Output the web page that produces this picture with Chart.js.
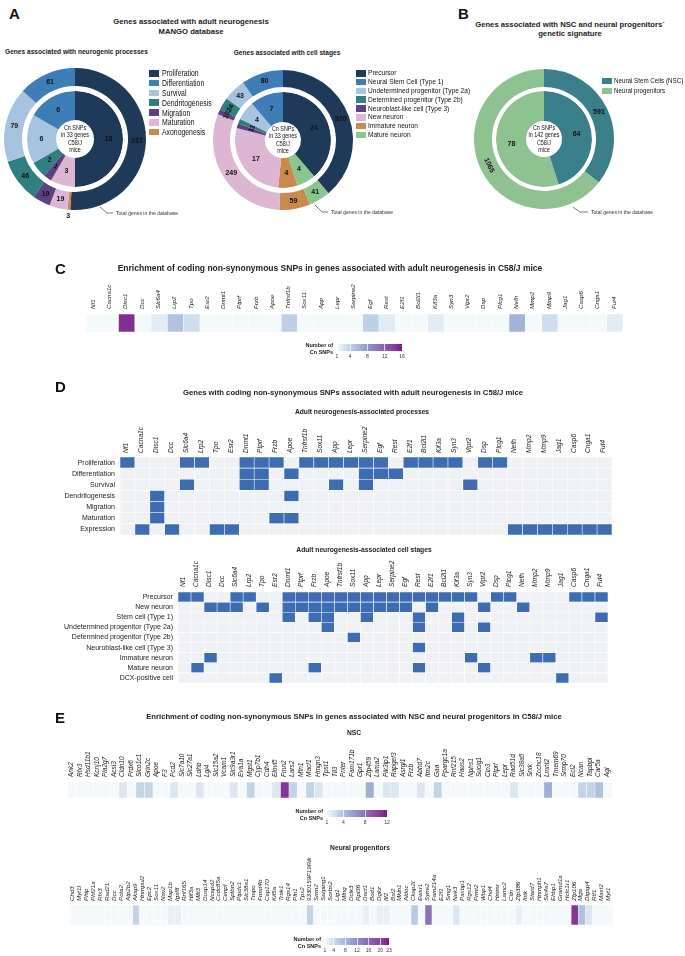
<!DOCTYPE html>
<html><head><meta charset="utf-8">
<script src="https://cdn.jsdelivr.net/npm/chart.js@4.4.1/dist/chart.umd.min.js"></script>
<style>
html,body{margin:0;padding:0;background:#fff;}
#page{position:relative;width:685px;height:956px;overflow:hidden;font-family:"Liberation Sans",Arial,sans-serif;color:#222;}
canvas{position:absolute;}
.t{position:absolute;white-space:nowrap;line-height:1;}
</style></head><body><div id="page"></div>
<script>
// ---------------- DATA ----------------
const procNames  = ['Proliferation','Differentiation','Survival','Dendritogenesis','Migration','Maturation','Axonogenesis'];
const procTotal  = [237, 61, 79, 46, 19, 19, 3];
const procSnp    = [18, 6, 6, 2, 1, 3, 0];

const stageNames = ['Precursor','Neural Stem Cell (Type 1)','Undetermined progenitor (Type 2a)','Determined progenitor (Type 2b)','Neuroblast-like cell (Type 3)','New neuron','Immature neuron','Mature neuron'];
const stageTotal = [320, 80, 43, 24, 10, 249, 59, 41];
const stageSnp   = [24, 7, 4, 1, 1, 17, 4, 4];

const sigNames = ['Neural Stem Cells (NSC)','Neural progenitors'];
const sigTotal = [591, 1065];
const sigSnp   = [64, 78];

const genes33 = ['Nf1','Cacna1c','Disc1','Dcc','Slc6a4','Lrp2','Tpo','Esr2','Dnmt1','Ptprf','Frzb','Apoe','Tnfrsf1b','Sox11','App','Lepr','Serpine2','Egf','Rest','E2f1','Bcl2l1','Kif3a','Syn3','Vipr2','Dsp','Plcg1','Nefh','Mmp2','Mmp9','Jag1','Casp6','Cnga1','Fut4'];
const cnSnp33 = [1,1,15,1,2,5,3,1,1,1,1,1,4,1,1,1,1,4,2,1,1,2,1,1,1,1,6,1,3,1,1,1,2];

const procRows = ['Proliferation','Differentiation','Survival','Dendritogenesis','Migration','Maturation','Expression'];
const dProliferation   = ['Nf1','Slc6a4','Lrp2','Dnmt1','Ptprf','Frzb','Tnfrsf1b','Sox11','App','Lepr','Serpine2','Egf','E2f1','Bcl2l1','Kif3a','Syn3','Dsp','Plcg1'];
const dDifferentiation = ['Dnmt1','Ptprf','Apoe','Serpine2','Egf','Rest'];
const dSurvival        = ['Slc6a4','Dnmt1','Ptprf','App','Serpine2','Vipr2'];
const dDendritogenesis = ['Disc1','Apoe'];
const dMigration       = ['Disc1'];
const dMaturation      = ['Disc1','Frzb','Apoe'];
const dExpression      = ['Cacna1c','Dcc','Tpo','Esr2','Nefh','Mmp2','Mmp9','Jag1','Casp6','Cnga1','Fut4'];

const stageRows = ['Precursor','New neuron','Stem cell (Type 1)','Undetermined progenitor (Type 2a)','Determined progenitor (Type 2b)','Neuroblast-like cell (Type 3)','Immature neuron','Mature neuron','DCX-positive cell'];
const sPrecursor    = ['Nf1','Cacna1c','Slc6a4','Lrp2','Dnmt1','Ptprf','Frzb','Apoe','Tnfrsf1b','Sox11','App','Lepr','Serpine2','Egf','Rest','E2f1','Bcl2l1','Kif3a','Syn3','Dsp','Plcg1','Casp6','Cnga1','Fut4'];
const sNewNeuron    = ['Disc1','Dcc','Slc6a4','Tpo','Dnmt1','Ptprf','Frzb','Apoe','Tnfrsf1b','Sox11','App','Lepr','Serpine2','Egf','E2f1','Vipr2','Nefh'];
const sStemCell     = ['Dnmt1','Frzb','Apoe','App','Rest','Kif3a','Fut4'];
const sUndetermined = ['Apoe','Rest','Kif3a','Vipr2'];
const sDetermined   = ['Sox11'];
const sNeuroblast   = ['Rest'];
const sImmature     = ['Disc1','Syn3','Mmp2','Mmp9'];
const sMature       = ['Cacna1c','Frzb','Rest','Vipr2'];
const sDcx          = ['Esr2','Jag1'];

const nscGenes = ['Ank2','Rfx3','Hsd11b1','Kcnj10','Pla2g7','Acsl3','Cldn10','Prdx6','Slco1c1','Grin2c','Apoe','F3','Pcd2','Slc7a10','Slc27a1','Ldhb','Lgi4','Slc15a2','Vcam1','Slc9a3r1','Eva1a','Mgst1','Cyp7b1','Cdh4','Elovl5','Fmn2','Lars2','Mfn1','Macf1','Hmgn3','Tpst1','Tll3','Pnter','Fam171b','Gpr1','Zfp459','Lama2','Pik3ip1','Rapgef3','Asrgl1','Frzb','Abhd7','Itm2c','Gaa','Ppargc1a','Rnf215','Haus2','Nphs1','Sucig1','Cln3','Ptprf','Lepr','Rad51d','Slc38a5','Srxk','Zcchc18','Lmnt2','Tmem69','Srmp70','Ecl2','Ncan','Tapbpl','Car5a','Agl'];
const nscSnp   = [1,1,1,1,1,1,2,1,3,3,1,1,2,1,1,2,1,1,1,2,1,3,1,1,2,11,3,1,3,2,1,1,1,1,1,5,1,2,2,1,1,2,1,3,1,1,1,1,1,1,1,1,2,1,1,1,5,1,1,1,3,3,4,1];

const npGenes = ['Chd3','Myt1l','Phip','Phf21a','Rfx3','Rad21','Dcc','Pola2','Atp2b2','Akap9','Hnrnpul2','Epc2','Sox11','Nav2','Map1b','Igsf8','Rnf165','Hif3a','Mllt3','Dusp14','Ncapd2','Ccdc85a','Cenpf','Sptbn2','Ptpdc1','Slc38a1','Tmpo','Frmd4b','Cep170','Kif5a','Trak1','Rgs14','Pfn1','Tpx2','9330159F19Rik','Srrm2','Serping1','Sorbs2','Lig1','Mfng','Dclk3','Rpl36','Dact1','Bod1','Dgkz','Ilf2','Bst2','Mkln1','Aldoc','Ckap2l','Ewsr1','Syne2','Fam214a','E2f1','Smg1','Nek3','Paxbp1','Rgs12','Prmt2','Wbp1','Chd4','Hmmr','Lamc2','Ctin','Zfp386','Ibtk','Stard7','Hnrnph1','Slc4a7','Ehbp1','Gramd1a','Hcfc1r1','Zfp106','Mga','Dlgap4','Rtf1','Mast2','Myt1'];
const npSnp   = [1,1,1,1,1,1,1,1,1,5,1,1,1,1,2,2,1,1,1,1,1,1,1,1,1,1,1,1,1,1,1,1,1,1,5,1,1,1,1,1,1,1,2,1,2,2,1,1,1,6,1,15,1,1,1,3,1,1,1,1,1,1,1,1,2,1,1,1,1,1,1,1,21,7,3,1,1,1];

const legendTicksC   = [1,4,8,12,16];
const legendTicksNSC = [1,4,8,12];
const legendTicksNP  = [1,4,8,12,16,20,23];

// ---------------- STYLE ----------------
const FONT = '"Liberation Sans", Arial, sans-serif';
const catColors = ['#1f3a59','#3f7db7','#a6c3e0','#2f7f80','#5b4283','#ddb6d3','#c98b4b','#8dc590'];
const sigColors = ['#3a7f8a','#8fc291'];
const BLUE = '#3d6cb3', GREY = '#eff1f5';
const PAL = [[0,[244,249,251]],[0.2,[189,208,230]],[0.45,[142,156,203]],[0.7,[140,98,174]],[0.9,[136,57,154]],[1,[125,25,132]]];

Chart.defaults.animation = false;
Chart.defaults.responsive = false;
Chart.defaults.plugins.legend.display = false;
Chart.defaults.plugins.tooltip.enabled = false;

const page = document.getElementById('page');
function T(txt, x, y, o = {}) {
  const d = document.createElement('div'); d.className = 't'; d.textContent = txt;
  d.style.left = x + 'px'; d.style.top = y + 'px';
  d.style.fontSize = (o.size || 7) + 'px';
  d.style.fontWeight = o.bold ? 'bold' : 'normal';
  if (o.italic) d.style.fontStyle = 'italic';
  d.style.fontFamily = FONT;
  d.style.color = o.color || '#222';
  const a = o.align || 'c';
  d.style.transformOrigin = (a === 'c' ? 'center' : a === 'r' ? 'right' : 'left') + ' center';
  d.style.transform = 'translate(' + (a === 'c' ? '-50%' : a === 'r' ? '-100%' : '0') + ',-50%)' + (o.narrow ? ' scaleX(0.82)' : '');
  page.appendChild(d); return d;
}
function mkCanvas(x, y, w, h) {
  const c = document.createElement('canvas'); c.width = w; c.height = h;
  c.style.left = x + 'px'; c.style.top = y + 'px'; c.style.width = w + 'px'; c.style.height = h + 'px';
  page.appendChild(c); return c;
}
function cmap(v, max) {
  const t = Math.max(0, Math.min(1, (v - 1) / (max - 1)));
  for (let i = 1; i < PAL.length; i++) {
    if (t <= PAL[i][0]) {
      const [t0, c0] = PAL[i - 1], [t1, c1] = PAL[i]; const f = (t - t0) / (t1 - t0);
      return 'rgb(' + c0.map((c, k) => Math.round(c + (c1[k] - c) * f)).join(',') + ')';
    }
  }
  return 'rgb(' + PAL[PAL.length - 1][1].join(',') + ')';
}

// ---------------- DONUTS ----------------
const arcLabels = { id: 'arcLabels', afterDatasetsDraw(chart) {
  const ctx = chart.ctx;
  chart.data.datasets.forEach((ds, di) => {
    if (ds.noLabel) return;
    const meta = chart.getDatasetMeta(di);
    const total = ds.data.reduce((a, b) => a + b, 0);
    meta.data.forEach((arc, i) => {
      const v = ds.data[i]; if (!v) return;
      const p = arc.getProps(['x','y','startAngle','endAngle','innerRadius','outerRadius'], true);
      const mid = (p.startAngle + p.endAngle) / 2;
      const frac = v / total;
      const r = frac < 0.012 ? p.outerRadius + 6 : (p.innerRadius + p.outerRadius) / 2;
      ctx.save(); ctx.translate(p.x + Math.cos(mid) * r, p.y + Math.sin(mid) * r);
      const tan = ds.tangent ? ds.tangent[i] : false;
      if ((tan || frac < 0.03) && frac >= 0.012) {
        let a = mid + Math.PI / 2; while (a > Math.PI / 2) a -= Math.PI; while (a < -Math.PI / 2) a += Math.PI; ctx.rotate(a);
      }
      ctx.font = 'bold 7px ' + FONT; ctx.fillStyle = '#111'; ctx.textAlign = 'center'; ctx.textBaseline = 'middle';
      ctx.fillText(String(v), 0, 0); ctx.restore();
    });
  });
}};
function donut(cfg) {
  const m = 12, R = cfg.r;
  const cv = mkCanvas(cfg.cx - R - m, cfg.cy - R - m, 2 * (R + m), 2 * (R + m));
  const ord = cfg.order;
  new Chart(cv, { type: 'doughnut', plugins: [arcLabels],
    data: { labels: ord.map(i => cfg.names[i]), datasets: [
      { data: ord.map(i => cfg.outer[i]), backgroundColor: ord.map(i => cfg.colors[i]), borderWidth: 0, weight: cfg.w[0], tangent: cfg.tangent },
      { data: [1], backgroundColor: '#ffffff', borderWidth: 0, weight: cfg.w[1], noLabel: true },
      { data: ord.map(i => cfg.inner[i]), backgroundColor: ord.map(i => cfg.colors[i]), borderWidth: 0, weight: cfg.w[2] }
    ]},
    options: { devicePixelRatio: 1, cutout: cfg.hole, hoverOffset: 0, layout: { padding: m, autoPadding: false } }
  });
  const lines = cfg.center;
  lines.forEach((l, k) => T(l, cfg.cx, cfg.cy + (k - (lines.length - 1) / 2) * 7.4, { size: 6.6, narrow: true, color: '#111' }));
}
function legend(names, colors, x, y0, dy, size) {
  names.forEach((n, i) => {
    const s = document.createElement('div');
    s.style.cssText = 'position:absolute;left:' + x + 'px;top:' + (y0 + i * dy - 3) + 'px;width:10px;height:6.5px;background:' + colors[i];
    page.appendChild(s);
    T(n, x + 12.5, y0 + i * dy + 0.3, { size: size, narrow: true, align: 'l', color: '#111' });
  });
}

// Panel A
T('A', 9, 13, { size: 15, bold: true, align: 'l', color: '#111' });
T('Genes associated with adult neurogenesis', 191, 22, { size: 7.7, bold: true });
T('MANGO database', 191, 32, { size: 7.7, bold: true });
T('Genes associated with neurogenic processes', 5, 52, { size: 6.6, bold: true, align: 'l' });
T('Genes associated with cell stages', 287, 53, { size: 6.6, bold: true });
const centerA = ['Cn SNPs', 'in 33 genes', 'C58/J', 'mice'];
donut({ cx: 75, cy: 139, r: 71, w: [18, 5, 29], hole: 19, names: procNames, outer: procTotal, inner: procSnp, colors: catColors, order: [0,6,5,4,3,2,1], center: centerA });
donut({ cx: 283, cy: 140, r: 70, w: [17, 5, 30], hole: 18, names: stageNames, outer: stageTotal, inner: stageSnp, colors: catColors, order: [0,7,6,5,4,3,2,1], center: centerA });
legend(procNames, catColors, 149, 73, 9.8, 8.4);
legend(stageNames, catColors, 355.5, 73, 8.8, 8);

// Panel B
T('B', 458, 13, { size: 15, bold: true, align: 'l', color: '#111' });
T('Genes associated with NSC and neural progenitors\u00b4', 570, 25, { size: 7.7, bold: true });
T('genetic signature', 570, 33.5, { size: 7.7, bold: true });
donut({ cx: 544, cy: 139, r: 70, w: [18, 4, 30], hole: 18, names: sigNames, outer: sigTotal, inner: sigSnp, colors: sigColors, order: [0,1], center: ['Cn SNPs', 'in 142 genes', 'C58/J', 'mice'], tangent: [false, true] });
legend(sigNames, sigColors, 601.5, 80.5, 10, 7.6);

// callouts
const svgNS = 'http://www.w3.org/2000/svg';
const svg = document.createElementNS(svgNS, 'svg');
svg.setAttribute('width', 685); svg.setAttribute('height', 956);
svg.style.cssText = 'position:absolute;left:0;top:0;pointer-events:none';
[[100,207,107,213,113,213],[315,205,322,212,328,212],[573,207,580,212,588,212]].forEach(p => {
  const pl = document.createElementNS(svgNS, 'polyline');
  pl.setAttribute('points', p[0]+','+p[1]+' '+p[2]+','+p[3]+' '+p[4]+','+p[5]);
  pl.setAttribute('fill', 'none'); pl.setAttribute('stroke', '#444'); pl.setAttribute('stroke-width', '0.7');
  svg.appendChild(pl);
});
page.appendChild(svg);
T('Total genes in the database', 116, 213, { size: 6.2, narrow: true, align: 'l', color: '#333' });
T('Total genes in the database', 331, 212, { size: 6.2, narrow: true, align: 'l', color: '#333' });
T('Total genes in the database', 591, 212, { size: 6.2, narrow: true, align: 'l', color: '#333' });

// ---------------- HEATMAPS ----------------
function heatmap(cfg) {
  const n = cfg.rowNames ? cfg.rowNames.length : 1;
  const cv = mkCanvas(cfg.x, cfg.y, cfg.w, cfg.h);
  const datasets = [];
  for (let r = n - 1; r >= 0; r--) {
    datasets.push({ data: cfg.labels.map(() => 1), backgroundColor: cfg.colors[r], borderColor: '#ffffff',
      borderWidth: cfg.bw, borderSkipped: false, barPercentage: 1, categoryPercentage: 1 });
  }
  new Chart(cv, { type: 'bar', data: { labels: cfg.labels, datasets },
    options: { devicePixelRatio: 1, layout: { padding: 0, autoPadding: false },
      scales: {
        x: { position: 'top', stacked: true, grid: { display: false, drawTicks: false }, border: { display: false },
             ticks: { autoSkip: false, minRotation: 90, maxRotation: 90, padding: cfg.tickPad, color: '#222',
                      labelOffset: cfg.fs * 1.05,
                      font: { family: FONT, size: cfg.fs, style: 'italic' } },
             afterFit: s => { s.height = cfg.axisH; s.paddingLeft = 0; s.paddingRight = 0; } },
        y: { display: !!cfg.rowNames, stacked: true, min: 0, max: n, grid: { display: false, drawTicks: false }, border: { display: false },
             afterBuildTicks: a => { a.ticks = cfg.rowNames ? cfg.rowNames.map((_, i) => ({ value: i + 0.5 })) : []; },
             ticks: { autoSkip: false, padding: 5, color: '#222', font: { family: FONT, size: 7 },
                      callback: v => cfg.rowNames ? cfg.rowNames[n - 1 - Math.floor(v)] : '' },
             afterFit: s => { s.width = cfg.axisW || 0; s.paddingTop = 0; s.paddingBottom = 0; } }
      }
    }
  });
}
function gradLegend(x0, x1, yTop, h, max, ticks) {
  const stops = PAL.map(([t, c]) => 'rgb(' + c.join(',') + ') ' + (t * 100) + '%').join(',');
  const d = document.createElement('div');
  d.style.cssText = 'position:absolute;left:' + x0 + 'px;top:' + yTop + 'px;width:' + (x1 - x0) + 'px;height:' + h + 'px;background:linear-gradient(to right,' + stops + ')';
  page.appendChild(d);
  ticks.forEach(v => {
    const x = x0 + (v - 1) / (max - 1) * (x1 - x0);
    const l = document.createElement('div');
    l.style.cssText = 'position:absolute;left:' + (x - 0.3) + 'px;top:' + yTop + 'px;width:0.6px;height:' + h + 'px;background:rgba(255,255,255,0.7)';
    page.appendChild(l);
    T(String(v), x, yTop + h + 5, { size: 5, color: '#333' });
  });
  T('Number of', x0 - 4, yTop + 2, { size: 5.5, bold: true, align: 'r', color: '#222' });
  T('Cn SNPs', x0 - 4, yTop + 9, { size: 5.5, bold: true, align: 'r', color: '#222' });
}
const membership = (lists, genes) => lists.map(L => genes.map(g => L.includes(g) ? BLUE : GREY));

// Panel C
T('C', 55, 268, { size: 15, bold: true, align: 'l', color: '#111' });
T('Enrichment of coding non-synonymous SNPs in genes associated with adult neurogenesis in C58/J mice', 330, 268, { size: 8.5, bold: true });
heatmap({ x: 86, y: 280, w: 537, h: 52, axisH: 34, tickPad: 5, fs: 6.2, bw: 0.5, labels: genes33, colors: [cnSnp33.map(v => cmap(v, 16))] });
gradLegend(337, 402, 344, 7, 16, legendTicksC);

// Panel D
T('D', 55, 386, { size: 15, bold: true, align: 'l', color: '#111' });
T('Genes with coding non-synonymous SNPs associated with adult neurogenesis in C58/J mice', 353, 393, { size: 7.7, bold: true });
T('Adult neurogenesis-associated processes', 362, 412, { size: 6.7, bold: true });
heatmap({ x: 40, y: 420, w: 572, h: 115, axisW: 80, axisH: 37, tickPad: 4, fs: 6.6, bw: 0.6, labels: genes33, rowNames: procRows,
  colors: membership([dProliferation, dDifferentiation, dSurvival, dDendritogenesis, dMigration, dMaturation, dExpression], genes33) });
T('Adult neurogenesis-associated cell stages', 364, 550, { size: 6.7, bold: true });
heatmap({ x: 40, y: 555, w: 568, h: 128, axisW: 138, axisH: 37, tickPad: 5, fs: 6.6, bw: 0.6, labels: genes33, rowNames: stageRows,
  colors: membership([sPrecursor, sNewNeuron, sStemCell, sUndetermined, sDetermined, sNeuroblast, sImmature, sMature, sDcx], genes33) });

// Panel E
T('E', 55, 717, { size: 15, bold: true, align: 'l', color: '#111' });
T('Enrichment of coding non-synonymous SNPs in genes associated with NSC and neural progenitors in C58/J mice', 354, 717, { size: 7.7, bold: true });
T('NSC', 354, 733, { size: 6.7, bold: true });
heatmap({ x: 68, y: 740, w: 544, h: 58, axisH: 42, tickPad: 5, fs: 6.5, bw: 0.5, labels: nscGenes, colors: [nscSnp.map(v => cmap(v, 12))] });
gradLegend(327, 387, 810, 7, 12, legendTicksNSC);
T('Neural progenitors', 360, 848, { size: 6.7, bold: true });
heatmap({ x: 70, y: 855, w: 543, h: 70, axisH: 50, tickPad: 4, fs: 6.2, bw: 0.5, labels: npGenes, colors: [npSnp.map(v => cmap(v, 23))] });
gradLegend(325, 389, 938, 7, 23, legendTicksNP);
</script>
</body></html>
